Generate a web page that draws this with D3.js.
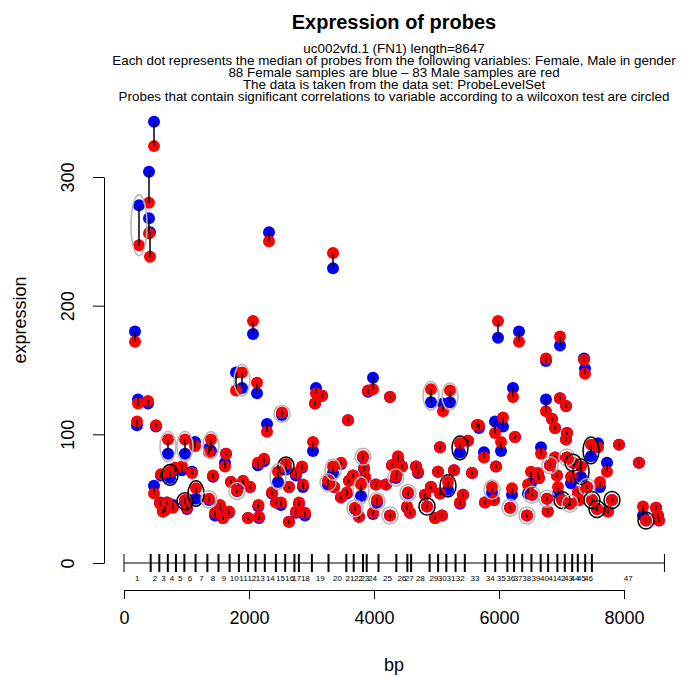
<!DOCTYPE html>
<html>
<head>
<meta charset="utf-8">
<script src="https://cdn.jsdelivr.net/npm/d3@7"></script>
<style>
  body { margin: 0; background: #fff; }
  svg { display: block; font-family: "Liberation Sans", Arial, Helvetica, sans-serif; }
</style>
</head>
<body>
<svg id="chart" width="682" height="678"></svg>
<script>
// probe start positions (bp) and median expression per group
const probeBp = [176,224,384,208,512,240,400,400,416,480,704,976,1392,1136,1360,1632,1616,736,592,816,928,1088,1424,480,976,1152,1360,576,656,784,1536,1680,1456,1792,1888,2128,2064,1712,1904,2016,1808,624,688,1008,1984,1584,
  2320,3344,2288,2528,3072,3168,3056,3984,3904,4256,3584,3024,2144,2240,2592,2464,2752,2848,2864,2640,2368,2432,2512,2800,2752,2896,2640,2150,2160,3344,3472,3264,3360,3472,3568,3600,3664,3792,3824,3840,3856,3696,3760,4048,4030,4192,3984,4256,4288,
  4912,5216,5104,5648,5056,5376,5504,4384,4368,4448,4672,4704,4350,5024,5280,5568,5184,4912,5056,4816,4544,4848,5424,5376,4976,5088,4528,4576,5984,6320,6224,5680,5936,6064,6256,6032,5760,5952,6512,5888,5776,5920,6208,6176,6464,6528,6448,
  6976,6752,7360,7376,6752,6976,7072,6848,6896,7088,7072,6672,7472,7584,7920,8240,7728,7088,7184,7312,6816,6896,6624,6640,6928,7152,7408,7616,6944,7264,6768,7008,7136,7280,7488,7808,7568,7744,6780,8304,8512,8544,8352,8560];
const femaleMedian = [180,127,124,107,106,278,304,268,257,343,85,85,87,94,89,85,78,66,68,72,72,71,67,60,47,50,49,47,43,45,43,39,37,148,136,132,178,63,62,59,56,40,47,42,35,35,
  257,229,108,115,136,130,124,144,133,129,111,87,76,79,74,63,68,74,59,59,54,47,45,46,39,37,32,44,35,70,77,61,59,51,54,64,68,52,82,73,66,42,36,47,61,61,38,37,76,
  125,125,124,107,90,86,95,80,70,75,75,70,66,71,72,70,57,59,54,53,54,44,53,46,35,37,43,39,175,180,136,105,110,106,98,87,86,75,62,55,47,49,53,43,54,53,37,
  169,157,159,151,127,128,122,112,105,101,96,90,83,93,92,78,78,82,78,67,76,82,69,66,68,62,59,59,54,55,50,49,46,49,49,49,42,40,40,37,43,37,33,33];
const maleMedian = [172,124,126,110,107,247,280,256,238,324,96,96,96,91,86,85,75,71,69,74,75,70,68,54,49,58,50,46,41,43,45,40,39,134,148,140,188,63,64,59,56,40,47,43,35,35,
  250,241,102,117,132,130,124,135,134,129,111,94,78,81,77,71,70,75,61,59,55,47,47,47,40,39,32,45,36,75,78,64,59,51,55,64,68,61,83,74,67,43,36,49,61,61,39,37,76,
  135,134,118,107,90,93,95,83,70,75,75,71,67,71,72,70,63,59,54,53,55,44,53,47,35,37,44,39,188,172,129,107,101,113,98,94,82,75,71,59,47,49,58,43,61,53,37,
  176,159,158,147,118,128,122,112,105,101,96,85,92,90,92,78,71,82,78,75,76,82,70,66,68,67,59,63,59,55,50,49,46,49,49,49,42,40,40,44,43,37,33,33];
// 0 = not significant, 1 = grey circle, 2 = black circle
const significance = [0,0,0,0,0,1,0,0,0,0,1,1,1,0,0,0,0,2,0,0,0,0,0,0,2,2,1,0,0,0,0,0,0,0,1,0,0,0,0,0,1,0,0,0,0,0,
  0,0,0,1,0,0,0,0,0,0,0,0,0,0,2,1,0,0,0,0,0,0,0,0,0,0,0,0,0,1,0,1,0,0,0,0,0,1,1,0,0,1,0,1,0,0,0,1,0,
  1,1,0,0,0,2,0,0,0,0,0,0,1,0,0,0,2,0,0,0,1,2,0,0,0,0,0,0,0,0,0,0,0,0,0,0,0,0,0,1,0,0,0,1,0,1,1,
  0,0,0,0,0,0,0,0,0,0,0,0,2,0,0,0,0,1,2,2,1,0,0,0,0,0,1,0,0,0,1,2,1,0,2,2,2,0,0,0,0,0,2,0];

// exon boundaries along the transcript (bp)
const geneLength = 8647;
const exonBounds = [427,565,701,831,966,1145,1334,1512,1690,1838,1986,2105,2253,2430,2579,2727,2798,3006,3272,3557,3675,3824,3883,4072,4357,4534,4594,4890,5026,5157,5305,5453,5779,5940,6134,6241,6371,6519,6667,6786,6934,7053,7171,7261,7379,7486];
const xTicks = [0,2000,4000,6000,8000];
const yTicks = [0,100,200,300];

const titleLines = [
  "uc002vfd.1 (FN1) length=8647",
  "Each dot represents the median of probes from the following variables: Female, Male in gender",
  "88 Female samples are blue \u2013 83 Male samples are red",
  "The data is taken from the data set: ProbeLevelSet",
  "Probes that contain significant correlations to variable according to a wilcoxon test are circled"
];

const probes = probeBp.map((bp, i) => ({
  bp: bp, f: femaleMedian[i], m: maleMedian[i], sig: significance[i]
}));

const svg = d3.select("#chart");
const x = d3.scaleLinear().domain([0, 8000]).range([124, 624]);
const y = d3.scaleLinear().domain([0, 300]).range([563, 177]);
const R = 6;

// titles
svg.append("text")
  .attr("x", 394).attr("y", 29)
  .attr("text-anchor", "middle")
  .style("font-size", "20px").style("font-weight", "bold")
  .text("Expression of probes");

svg.append("g").selectAll("text")
  .data(titleLines)
  .join("text")
  .attr("x", 394)
  .attr("y", (d, i) => 52.5 + i * 12.2)
  .attr("text-anchor", "middle")
  .style("font-size", "13.4px")
  .text(d => d);

// dots: all female first, then male on top
const dots = svg.append("g");
dots.selectAll("circle.f")
  .data(probes)
  .join("circle")
  .attr("class", "f")
  .attr("cx", d => x(d.bp)).attr("cy", d => y(d.f))
  .attr("r", R).attr("fill", "#0000ff");
dots.selectAll("circle.m")
  .data(probes)
  .join("circle")
  .attr("class", "m")
  .attr("cx", d => x(d.bp)).attr("cy", d => y(d.m))
  .attr("r", R).attr("fill", "#ff0000");

// connecting segments (a short tick even when both medians are equal)
svg.append("g").selectAll("line")
  .data(probes)
  .join("line")
  .attr("x1", d => x(d.bp)).attr("x2", d => x(d.bp))
  .attr("y1", d => Math.min(y(d.f), y(d.m)) - (Math.abs(y(d.f) - y(d.m)) < 4 ? 2 : 0))
  .attr("y2", d => Math.max(y(d.f), y(d.m)) + (Math.abs(y(d.f) - y(d.m)) < 4 ? 2 : 0))
  .attr("stroke", "#000").attr("stroke-width", 1.5);

// significance ellipses
svg.append("g").selectAll("ellipse")
  .data(probes.filter(d => d.sig > 0))
  .join("ellipse")
  .attr("cx", d => x(d.bp))
  .attr("cy", d => (y(d.f) + y(d.m)) / 2)
  .attr("rx", 8)
  .attr("ry", d => Math.max(8.5, Math.abs(y(d.f) - y(d.m)) * 0.6 + 6.5))
  .attr("fill", "none")
  .attr("stroke", d => d.sig === 2 ? "#000" : "#b4b4b4")
  .attr("stroke-width", 1.5);

// y axis
const yAxis = svg.append("g")
  .attr("transform", "translate(104,0)")
  .call(d3.axisLeft(y).tickValues(yTicks).tickSize(11).tickSizeOuter(0).tickPadding(0));
yAxis.select(".domain").attr("stroke", "#000");
yAxis.selectAll(".tick line").attr("stroke", "#000");
yAxis.selectAll(".tick text")
  .attr("x", null).attr("dy", null)
  .attr("transform", "translate(-36,0) rotate(-90)")
  .attr("text-anchor", "middle")
  .attr("dominant-baseline", "central")
  .style("font-size", "18px")
  .style("font-family", "'Liberation Sans', Arial, sans-serif")
  .attr("fill", "#000");

svg.append("text")
  .attr("transform", "translate(20,320) rotate(-90)")
  .attr("text-anchor", "middle")
  .attr("dominant-baseline", "central")
  .style("font-size", "18px")
  .text("expression");

// gene / exon structure
const exonY = 563;
const gene = svg.append("g");
gene.append("line")
  .attr("x1", x(0)).attr("x2", x(geneLength))
  .attr("y1", exonY).attr("y2", exonY)
  .attr("stroke", "#000").attr("stroke-width", 1);
gene.selectAll("line.end")
  .data([0, geneLength])
  .join("line")
  .attr("class", "end")
  .attr("x1", d => x(d)).attr("x2", d => x(d))
  .attr("y1", exonY - 9).attr("y2", exonY + 9)
  .attr("stroke", "#000").attr("stroke-width", 1);
gene.selectAll("line.bound")
  .data(exonBounds)
  .join("line")
  .attr("class", "bound")
  .attr("x1", d => x(d)).attr("x2", d => x(d))
  .attr("y1", exonY - 9).attr("y2", exonY + 9)
  .attr("stroke", "#000").attr("stroke-width", 2);
const edges = [0].concat(exonBounds, [geneLength]);
gene.selectAll("text")
  .data(d3.range(edges.length - 1))
  .join("text")
  .attr("x", i => x((edges[i] + edges[i + 1]) / 2))
  .attr("y", exonY + 18)
  .attr("text-anchor", "middle")
  .style("font-size", "8px")
  .text(i => i + 1);

// x axis
const xAxis = svg.append("g")
  .attr("transform", "translate(0,590)")
  .call(d3.axisBottom(x).tickValues(xTicks).tickFormat(d3.format("d")).tickSize(9).tickSizeOuter(0).tickPadding(12));
xAxis.select(".domain").attr("stroke", "#000");
xAxis.selectAll(".tick line").attr("stroke", "#000");
xAxis.selectAll(".tick text")
  .style("font-size", "18px")
  .style("font-family", "'Liberation Sans', Arial, sans-serif")
  .attr("fill", "#000");

svg.append("text")
  .attr("x", 394).attr("y", 671)
  .attr("text-anchor", "middle")
  .style("font-size", "18px")
  .text("bp");
</script>
</body>
</html>
